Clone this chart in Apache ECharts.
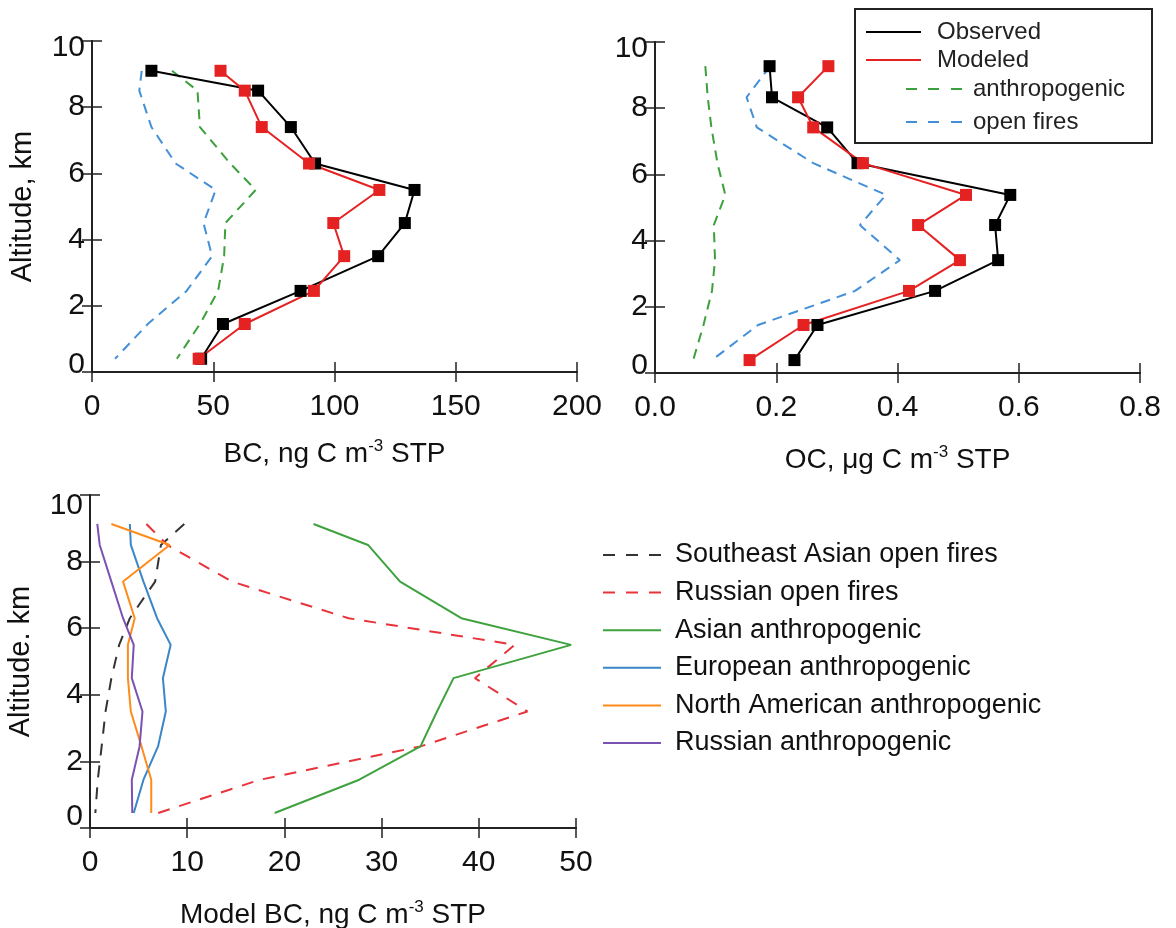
<!DOCTYPE html>
<html>
<head>
<meta charset="utf-8">
<title>BC / OC profiles</title>
<script src="https://cdn.jsdelivr.net/npm/echarts@6.0.0/dist/echarts.min.js"></script>
<style>
  html, body { margin: 0; padding: 0; background: #fff; }
  #chart { width: 1176px; height: 928px; }
</style>
</head>
<body>
<div id="chart"></div>
<script>
// altitude levels, km
var altBC = [9.1, 8.5, 7.4, 6.3, 5.5, 4.5, 3.5, 2.45, 1.45, 0.4];
var altOC = [9.27, 8.33, 7.42, 6.34, 5.38, 4.47, 3.41, 2.48, 1.45, 0.39];
var altModel = [9.13, 8.5, 7.4, 6.3, 5.5, 4.5, 3.5, 2.45, 1.45, 0.45];

// top left: BC, ng C m-3 STP
var bcObserved = [24.5, 68.5, 82, 92, 133, 129, 118, 86, 54, 45];
var bcModeled = [53, 63, 70, 89.5, 118.5, 99.5, 104, 91.5, 63, 44];
var bcAnthro = [33, 43.5, 44.5, 57, 67.5, 55, 54.5, 52, 44.5, 35];
var bcFires = [20.5, 19.5, 24.5, 34.5, 51, 46, 49.5, 39, 23, 9.5];

// top right: OC, ug C m-3 STP
var ocObserved = [0.189, 0.193, 0.284, 0.334, 0.586, 0.561, 0.566, 0.462, 0.268, 0.23];
var ocModeled = [0.286, 0.236, 0.261, 0.343, 0.513, 0.434, 0.503, 0.419, 0.245, 0.156];
var ocAnthro = [0.083, 0.087, 0.093, 0.103, 0.116, 0.097, 0.099, 0.094, 0.08, 0.063];
var ocFires = [0.19, 0.151, 0.168, 0.261, 0.381, 0.338, 0.404, 0.33, 0.17, 0.094];

// bottom: model BC by source
var seAsianFires = [9.7, 7.3, 6.7, 4.1, 3.0, 2.2, 1.6, 1.2, 0.8, 0.55];
var russianFires = [5.8, 7.95, 14.6, 26.6, 43.7, 39.6, 45.0, 34.0, 17.5, 7.0];
var asianAnthro = [23.0, 28.6, 31.9, 38.2, 49.5, 37.4, 35.7, 34.0, 27.7, 19.0];
var europeanAnthro = [4.1, 4.2, 5.5, 6.9, 8.3, 7.5, 7.8, 7.0, 5.5, 4.5];
var northAmAnthro = [2.2, 8.2, 3.4, 4.6, 3.9, 3.9, 4.2, 5.3, 6.3, 6.3];
var russianAnthro = [0.75, 1.0, 2.2, 3.4, 4.5, 4.3, 5.4, 5.1, 4.3, 4.35];

var altTicks = ['0', '2', '4', '6', '8', '10'];
var bcTicks = ['0', '50', '100', '150', '200'];
var ocTicks = ['0.0', '0.2', '0.4', '0.6', '0.8'];
var modelTicks = ['0', '10', '20', '30', '40', '50'];

var SANS = "'Liberation Sans', Arial, sans-serif";

function pairs(xs, ys) {
  return xs.map(function (x, i) { return [x, ys[i]]; });
}

var chart = echarts.init(document.getElementById('chart'));

var frame = { show: true, lineStyle: { color: '#222', width: 2 } };
var tick = { show: true, inside: true, length: 10, lineStyle: { color: '#222', width: 1.5 } };

function xBottom(grid, max, step, labels, name, gap) {
  return {
    gridIndex: grid, type: 'value', position: 'bottom', min: 0, max: max, interval: step,
    axisLine: frame, axisTick: tick, splitLine: { show: false },
    axisLabel: {
      margin: 20, fontSize: 30, fontFamily: SANS, color: '#111',
      formatter: function (v) { return labels[Math.round(v / step)]; }
    },
    name: name, nameLocation: 'middle', nameGap: gap,
    nameTextStyle: {
      fontSize: 28, fontFamily: SANS, color: '#111', lineHeight: 32,
      rich: { sup: { fontSize: 17, fontFamily: SANS, color: '#111', verticalAlign: 'top', lineHeight: 32 } }
    }
  };
}
function xTop(grid, max, step) {
  return {
    gridIndex: grid, type: 'value', position: 'top', min: 0, max: max, interval: step,
    axisLine: frame, axisTick: tick, axisLabel: { show: false }, splitLine: { show: false }
  };
}
function yLeft(grid, name, endHeight) {
  return {
    gridIndex: grid, type: 'value', position: 'left', min: 0, max: 10, interval: 2,
    axisLine: frame, axisTick: tick, splitLine: { show: false },
    axisLabel: {
      margin: 7, fontSize: 30, fontFamily: SANS, color: '#111', lineHeight: endHeight,
      verticalAlignMinLabel: 'bottom', verticalAlignMaxLabel: 'top',
      formatter: function (v) { return altTicks[Math.round(v / 2)]; }
    },
    name: name, nameLocation: 'middle', nameGap: 55, nameRotate: 90,
    nameTextStyle: { fontSize: 29, fontFamily: SANS, color: '#111' }
  };
}
function yRight(grid) {
  return {
    gridIndex: grid, type: 'value', position: 'right', min: 0, max: 10, interval: 2,
    axisLine: frame, axisTick: tick, axisLabel: { show: false }, splitLine: { show: false }
  };
}

function line(name, xi, xs, ys, color, dash, withMarks) {
  return {
    name: name, type: 'line', xAxisIndex: xi, yAxisIndex: xi,
    data: pairs(xs, ys),
    symbol: withMarks ? 'rect' : 'none', symbolSize: 12,
    color: color,
    itemStyle: { color: color },
    lineStyle: { color: color, width: 2, type: dash || 'solid' },
    emphasis: { disabled: true }, animation: false, z: withMarks ? 3 : 2
  };
}

var dashIcon = 'path://M0,0h11v2h-11z M22,0h11v2h-11z M45,0h11v2h-11z';
var dashIcon2 = 'path://M0,0h12v2h-12z M23,0h12v2h-12z M46,0h12v2h-12z';

var option = {
  backgroundColor: '#fff',
  animation: false,
  grid: [
    { left: 92, top: 41, width: 485, height: 331, outerBoundsMode: 'none' },
    { left: 655, top: 42, width: 485, height: 331, outerBoundsMode: 'none' },
    { left: 90, top: 495, width: 486, height: 333, outerBoundsMode: 'none' }
  ],
  xAxis: [
    xBottom(0, 200, 50, bcTicks, 'BC, ng C m{sup|-3} STP', 66),
    xBottom(1, 0.8, 0.2, ocTicks, 'OC, \u03bcg C m{sup|-3} STP', 71),
    xBottom(2, 50, 10, modelTicks, 'Model BC, ng C m{sup|-3} STP', 71),
    xTop(0, 200, 50), xTop(1, 0.8, 0.2), xTop(2, 50, 10)
  ],
  yAxis: [
    yLeft(0, 'Altitude, km', 14),
    yLeft(1, '', 14),
    yLeft(2, 'Altitude. km', 22),
    yRight(0), yRight(1), yRight(2)
  ],
  graphic: [{
    type: 'rect', left: 854, top: 8, z: 3,
    shape: { width: 297, height: 134 },
    style: { fill: '#fff', stroke: '#222', lineWidth: 2 }
  }],
  legend: [
    {
      orient: 'vertical', left: 866, top: 20, z: 5, padding: 0,
      itemWidth: 55, itemHeight: 2, itemGap: 4,
      itemStyle: { borderWidth: 0 },
      textStyle: { fontSize: 24, fontFamily: SANS, color: '#222', lineHeight: 24, padding: [0, 0, 0, 11] },
      data: [{ name: 'Observed', icon: 'rect' }, { name: 'Modeled', icon: 'rect' }]
    },
    {
      orient: 'vertical', left: 906, top: 77, z: 5, padding: 0,
      itemWidth: 56, itemHeight: 2, itemGap: 9,
      itemStyle: { borderWidth: 0 },
      textStyle: { fontSize: 24, fontFamily: SANS, color: '#222', lineHeight: 24, padding: [0, 0, 0, 6] },
      data: [{ name: 'anthropogenic', icon: dashIcon }, { name: 'open fires', icon: dashIcon }]
    },
    {
      orient: 'vertical', left: 603, top: 540, padding: 0,
      itemWidth: 58, itemHeight: 2, itemGap: 7.6,
      itemStyle: { borderWidth: 0 },
      textStyle: { fontSize: 27, fontFamily: SANS, color: '#111', lineHeight: 30, padding: [0, 0, 0, 9] },
      data: [
        { name: 'Southeast Asian open fires', icon: dashIcon2 },
        { name: 'Russian open fires', icon: dashIcon2 },
        { name: 'Asian anthropogenic', icon: 'rect' },
        { name: 'European anthropogenic', icon: 'rect' },
        { name: 'North American anthropogenic', icon: 'rect' },
        { name: 'Russian anthropogenic', icon: 'rect' }
      ]
    }
  ],
  series: [
    line('anthropogenic', 0, bcAnthro, altBC, '#3ca03c', [10, 7]),
    line('open fires', 0, bcFires, altBC, '#4490d8', [10, 7]),
    line('Observed', 0, bcObserved, altBC, '#000', null, true),
    line('Modeled', 0, bcModeled, altBC, '#e52222', null, true),

    line('anthropogenic', 1, ocAnthro, altOC, '#3ca03c', [10, 7]),
    line('open fires', 1, ocFires, altOC, '#4490d8', [10, 7]),
    line('Observed', 1, ocObserved, altOC, '#000', null, true),
    line('Modeled', 1, ocModeled, altOC, '#e52222', null, true),

    line('Southeast Asian open fires', 2, seAsianFires, altModel, '#333', [12, 10]),
    line('Russian open fires', 2, russianFires, altModel, '#e8333a', [12, 10]),
    line('Asian anthropogenic', 2, asianAnthro, altModel, '#3fa23f'),
    line('European anthropogenic', 2, europeanAnthro, altModel, '#3a86c8'),
    line('North American anthropogenic', 2, northAmAnthro, altModel, '#ff8c1a'),
    line('Russian anthropogenic', 2, russianAnthro, altModel, '#7a52b3')
  ]
};

chart.setOption(option);
</script>
</body>
</html>
